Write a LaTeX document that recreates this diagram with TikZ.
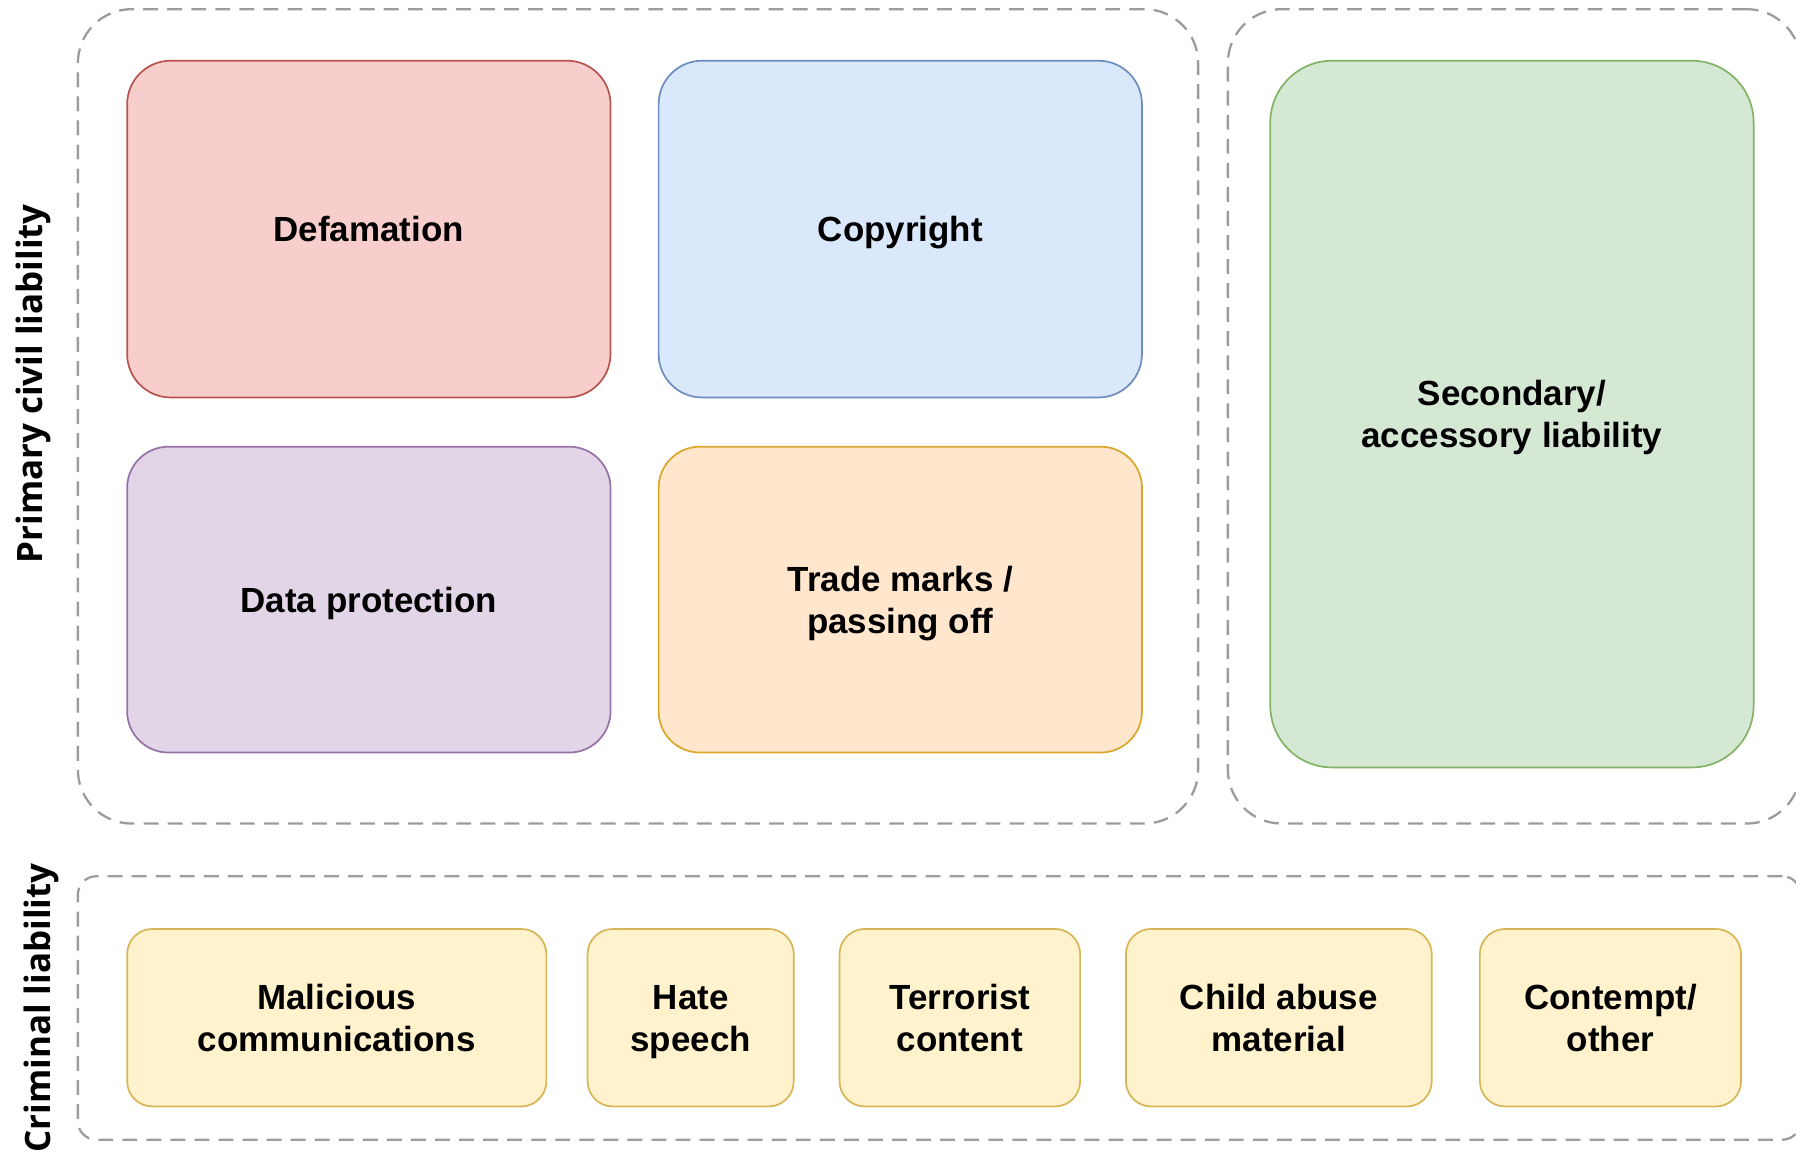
\documentclass[tikz,border=0pt]{standalone}
\usepackage{fontspec}
\setmainfont{Liberation Sans}
\newfontfamily\sidefont{Open Sans}
% every text line gets the same fixed height and depth, so labels centre on their caps
\newcommand\rowstrut{\rule[-7.5pt]{0pt}{37pt}}
\newcommand\one[1]{{\renewcommand\arraystretch{0}\begin{tabular}{@{}c@{}}\rowstrut#1\end{tabular}}}
\newcommand\two[2]{{\renewcommand\arraystretch{0}\begin{tabular}{@{}c@{}}\rowstrut#1\\\rowstrut#2\end{tabular}}}
\begin{document}
\begin{tikzpicture}[x=1pt,y=-1pt,
  every node/.style={inner sep=0pt, outer sep=0pt},
  card/.style={rectangle, line width=1.5pt, font=\fontsize{30.5}{37}\selectfont\bfseries, text=black},
  group/.style={rectangle, draw=dashgray, line width=2pt, dash pattern=on 13pt off 8pt},
  sidelabel/.style={rotate=90, anchor=base, font=\sidefont\fontsize{30.5}{35}\selectfont\bfseries}
]
\definecolor{dashgray}{HTML}{9C9C9C}
\definecolor{redfill}{HTML}{F8CECC}\definecolor{redline}{HTML}{B85450}
\definecolor{bluefill}{HTML}{DAE8FC}\definecolor{blueline}{HTML}{6C8EBF}
\definecolor{purplefill}{HTML}{E1D5E7}\definecolor{purpleline}{HTML}{9673A6}
\definecolor{orangefill}{HTML}{FFE6CC}\definecolor{orangeline}{HTML}{D9A82A}
\definecolor{greenfill}{HTML}{D5E8D4}\definecolor{greenline}{HTML}{82B366}
\definecolor{yellowfill}{HTML}{FFF2CC}\definecolor{yellowline}{HTML}{D6B656}

\useasboundingbox (0,0) rectangle (1568,1006);
\clip (0,0) rectangle (1568,1006);

% dashed group frames
\node[group, rounded corners=47pt, minimum width=978pt, minimum height=711pt] (civil) at (557,363.5) {};
\node[group, rounded corners=47pt, minimum width=500pt, minimum height=711pt] (accessory) at (1322,363.5) {};
\node[group, rounded corners=16pt, minimum width=1504pt, minimum height=230pt] (criminal) at (820,880) {};

% side labels
\node[sidelabel] (civillabel) at (37,335) {Primary civil liability};
\node[sidelabel] (criminallabel) at (44,880) {Criminal liability};

% primary civil liability
\node[card, fill=redfill, draw=redline, rounded corners=38pt, minimum width=422pt, minimum height=294pt] (defamation) at (322,200) {\one{Defamation}};
\node[card, fill=bluefill, draw=blueline, rounded corners=38pt, minimum width=422pt, minimum height=294pt] (copyright) at (786,200) {\one{Copyright}};
\node[card, fill=purplefill, draw=purpleline, rounded corners=36pt, minimum width=422pt, minimum height=267pt] (dataprot) at (322,523.5) {\one{Data protection}};
\node[card, fill=orangefill, draw=orangeline, rounded corners=36pt, minimum width=422pt, minimum height=267pt] (trademarks) at (786,523.5) {\two{Trade marks /}{passing off}};

% secondary liability
\node[card, fill=greenfill, draw=greenline, rounded corners=54pt, minimum width=422pt, minimum height=617pt] (secondary) at (1320,361.5) {\two{Secondary/}{accessory liability}};

% criminal liability
\tikzset{crime/.style={card, fill=yellowfill, draw=yellowline, rounded corners=22pt, minimum height=155pt}}
\node[crime, minimum width=366pt] (malicious) at (294,888.5) {\two{Malicious}{communications}};
\node[crime, minimum width=180pt] (hate) at (603,888.5) {\two{Hate}{speech}};
\node[crime, minimum width=210pt] (terrorist) at (838,888.5) {\two{Terrorist}{content}};
\node[crime, minimum width=267pt] (childabuse) at (1116.5,888.5) {\two{Child abuse}{material}};
\node[crime, minimum width=228pt] (contempt) at (1406,888.5) {\two{Contempt/}{other}};
\end{tikzpicture}
\end{document}
